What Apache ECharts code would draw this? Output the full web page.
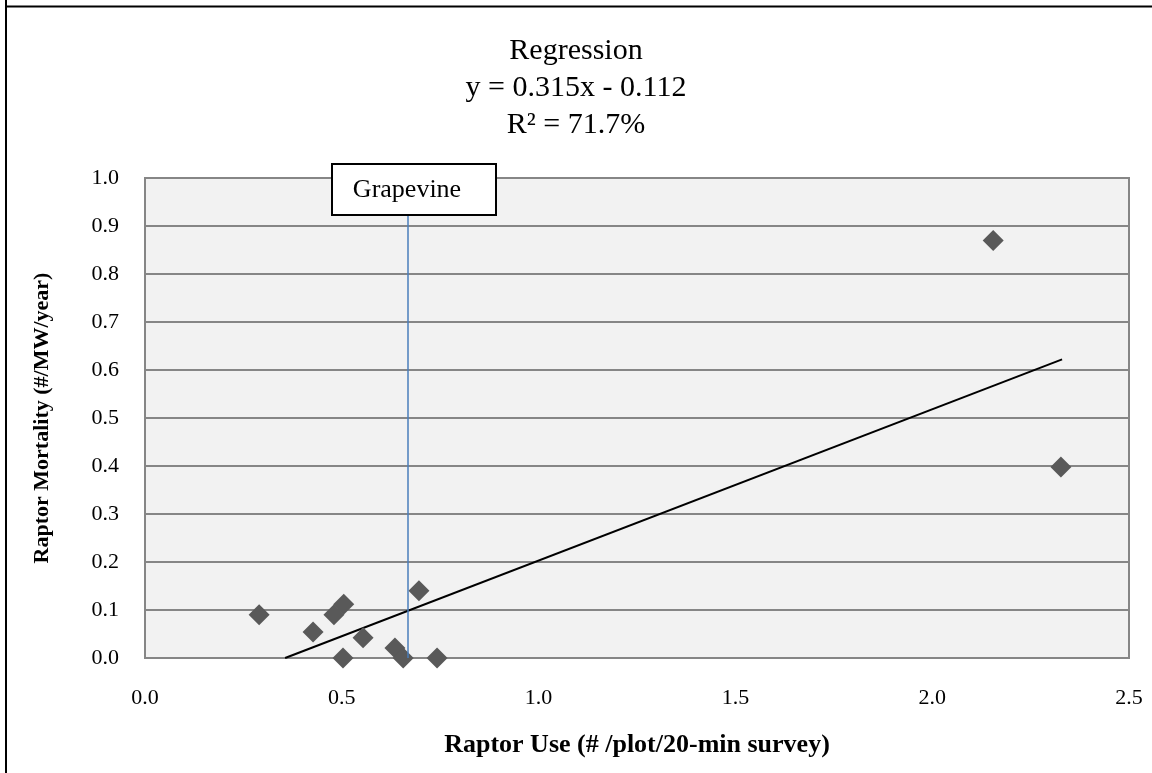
<!DOCTYPE html>
<html>
<head>
<meta charset="utf-8">
<script src="https://cdn.jsdelivr.net/npm/echarts@6/dist/echarts.min.js"></script>
<style>
  html, body { margin: 0; padding: 0; background: #fff; }
  #chart { width: 1152px; height: 773px; }
</style>
</head>
<body>
<div id="chart"></div>
<script>
  // raptor use vs mortality, one point per wind project
  var raptorUse = [0.29, 0.48, 0.505, 0.427, 0.554, 0.503, 0.635, 0.656, 0.742, 0.696, 2.155, 2.327];
  var raptorMortality = [0.09, 0.09, 0.112, 0.054, 0.042, 0.0, 0.021, 0.0, 0.0, 0.14, 0.87, 0.398];

  // trend line ends
  var trendX = [0.356, 2.33];
  var trendY = [0.0, 0.622];

  var grapevineX = 0.667;
  var titleLines = ["Regression", "y = 0.315x - 0.112", "R\u00b2 = 71.7%"];

  var font = "Liberation Serif";

  var chart = echarts.init(document.getElementById("chart"));

  var points = raptorUse.map(function (x, i) { return [x, raptorMortality[i]]; });
  var trend = trendX.map(function (x, i) { return [x, trendY[i]]; });

  var option = {
    animation: false,
    backgroundColor: "#fff",
    title: {
      text: titleLines.join("\n"),
      left: "center",
      top: 28,
      textStyle: {
        fontFamily: font,
        fontSize: 30,
        fontWeight: "normal",
        color: "#000",
        lineHeight: 37
      }
    },
    grid: {
      left: 145,
      top: 178,
      width: 984,
      height: 480,
      show: true,
      backgroundColor: "#f2f2f2",
      borderColor: "#868686",
      borderWidth: 2
    },
    xAxis: {
      type: "value",
      min: 0,
      max: 2.5,
      interval: 0.5,
      name: "Raptor Use (# /plot/20-min survey)",
      nameLocation: "middle",
      nameGap: 74,
      nameTextStyle: { fontFamily: font, fontSize: 26, fontWeight: "bold", color: "#000" },
      axisLine: { show: false },
      axisTick: { show: false },
      splitLine: { show: false },
      axisLabel: {
        margin: 29,
        fontFamily: font,
        fontSize: 22,
        color: "#000",
        formatter: function (v) { return v.toFixed(1); }
      }
    },
    yAxis: {
      type: "value",
      min: 0,
      max: 1,
      interval: 0.1,
      name: "Raptor Mortality (#/MW/year)",
      nameLocation: "middle",
      nameGap: 92,
      nameRotate: 90,
      nameTextStyle: { fontFamily: font, fontSize: 22, fontWeight: "bold", color: "#000" },
      axisLine: { show: false },
      axisTick: { show: false },
      splitLine: { show: true, lineStyle: { color: "#868686", width: 2 } },
      axisLabel: {
        margin: 26,
        fontFamily: font,
        fontSize: 22,
        color: "#000",
        formatter: function (v) { return v.toFixed(1); }
      }
    },
    series: [
      {
        name: "Trend",
        type: "line",
        data: trend,
        symbol: "none",
        lineStyle: { color: "#000", width: 2 },
        z: 3,
        markLine: {
          silent: true,
          symbol: "none",
          label: { show: false },
          lineStyle: { color: "#4a7ebb", width: 1.5, type: "solid" },
          data: [[{ coord: [grapevineX, 0] }, { coord: [grapevineX, 1] }]]
        }
      },
      {
        name: "Projects",
        type: "scatter",
        data: points,
        symbol: "diamond",
        symbolSize: 21,
        itemStyle: { color: "#595959", opacity: 1 },
        z: 4
      }
    ],
    graphic: [
      { type: "line", shape: { x1: 6, y1: 0, x2: 6, y2: 773 }, style: { stroke: "#000", lineWidth: 2 }, z: 100 },
      { type: "line", shape: { x1: 5, y1: 6.5, x2: 1152, y2: 6.5 }, style: { stroke: "#000", lineWidth: 2 }, z: 100 },
      {
        type: "rect",
        shape: { x: 332, y: 164, width: 164, height: 51 },
        style: { fill: "#fff", stroke: "#000", lineWidth: 2 },
        z: 100
      },
      {
        type: "text",
        x: 407,
        y: 190,
        style: {
          text: "Grapevine",
          fontFamily: font,
          fontSize: 26,
          fill: "#000",
          align: "center",
          verticalAlign: "middle"
        },
        z: 101
      }
    ]
  };

  chart.setOption(option);
</script>
</body>
</html>
